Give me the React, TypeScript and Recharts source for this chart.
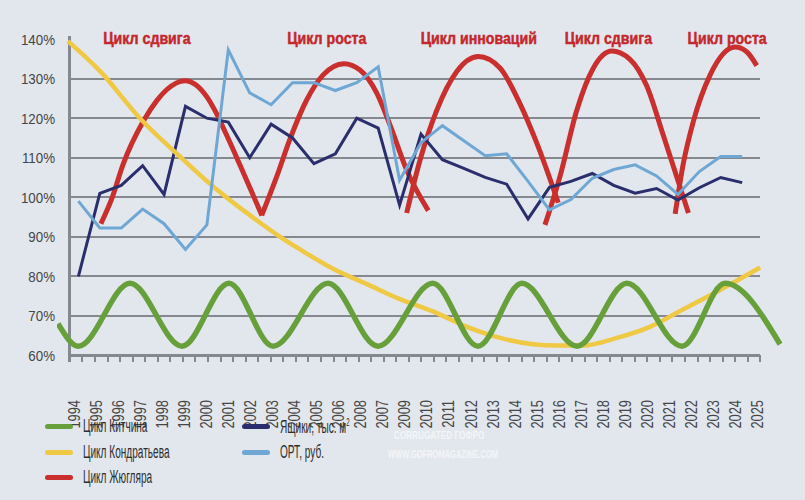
import { LineChart, Line, XAxis, YAxis, ReferenceDot } from 'recharts';

// Years on the horizontal axis (the source swaps 2007 and 2008 in the labels)
const years = [
  1994, 1995, 1996, 1997, 1998, 1999, 2000, 2001, 2002, 2003, 2004, 2005, 2006, 2007, 2008, 2009,
  2010, 2011, 2012, 2013, 2014, 2015, 2016, 2017, 2018, 2019, 2020, 2021, 2022, 2023, 2024, 2025,
];
const yearLabels = [
  '1994', '1995', '1996', '1997', '1998', '1999', '2000', '2001', '2002', '2003', '2004', '2005', '2006', '2008', '2007', '2009',
  '2010', '2011', '2012', '2013', '2014', '2015', '2016', '2017', '2018', '2019', '2020', '2021', '2022', '2023', '2024', '2025',
];

// Ящики, тыс. м2 (%)
const boxes = [
  80, 101, 103, 108, 100.7, 123, 120, 119, 110, 118.5, 115, 108.5, 111, 120, 117.5, 98,
  116, 109.5, 107.3, 105, 103.3, 94.5, 102.5, 104, 106, 103, 101, 102.2, 99.3, 102.4, 105, 103.7,
];
// ОРТ, руб. (%)
const ort = [
  99, 92.2, 92.2, 97, 93.3, 86.8, 93, 137.3, 126.4, 123.4, 129, 129, 127, 129, 133, 104.3,
  113.8, 118.1, 114.3, 110.5, 111, 104, 96.8, 99.4, 104.8, 107, 108.2, 105.4, 100.7, 106.5, 110.3, 110.3,
];

// Цикл Китчина: turning points of the wave
const kitchinYears = [
  1993.05, 1994.0, 1996.41, 1998.84, 2001.03, 2003.09, 2005.66, 2007.99,
  2010.55, 2012.66, 2014.71, 2017.29, 2019.62, 2022.19, 2024.2, 2026.77,
];
const kitchinValues = [68, 62.3, 78.2, 62.3, 78.2, 62.3, 78.2, 62.3, 78.2, 62.3, 78.2, 62.3, 78.2, 62.3, 78.2, 62.8];

// Цикл Кондратьева
const kondYears = [
  1993.51, 1995.01, 1996.87, 1998.74, 2000.47, 2002.02, 2003.28, 2004.35, 2005.89, 2007.48, 2009.02,
  2010.56, 2012.15, 2013.69, 2015.23, 2016.35, 2017.56, 2019.15, 2020.69, 2022.23, 2023.82, 2025.84,
];
const kondValues = [
  139.5, 131.9, 120, 110.3, 101.9, 95.4, 90.5, 86.8, 81.9, 78.0, 74.2,
  71.1, 67.2, 64.4, 62.8, 62.5, 62.5, 64.4, 67.2, 71.6, 76.1, 82.2,
];

// Цикл Жюгляра: five separate arcs, [year, value]
const juglar1 = [
  [1995.05, 93.3], [1995.55, 99.5], [1996.1, 108.5], [1997.03, 119.2], [1997.67, 124.5], [1998.12, 127.2],
  [1998.98, 129.5], [2000.0, 125.4], [2000.38, 121.9], [2000.93, 115.6], [2001.55, 108.1], [2002.57, 95.4],
];
const juglar2 = [
  [2002.56, 95.4], [2003.26, 105.2], [2003.88, 114.7], [2004.66, 124.6], [2005.42, 130.9], [2006.4, 133.8],
  [2007.15, 132.2], [2007.93, 126.4], [2008.55, 118.3], [2009.33, 106.9], [2010.34, 96.6],
];
const juglar3 = [
  [2009.33, 96], [2009.95, 109.3], [2010.73, 121.9], [2011.67, 131.8], [2012.68, 135.6],
  [2013.69, 132.7], [2014.62, 123.7], [2015.4, 113.8], [2016.41, 98.6],
];
const juglar4 = [
  [2015.79, 93], [2016.49, 105.2], [2017.27, 121.9], [2018.05, 132.7], [2018.91, 137],
  [2019.76, 134.9], [2020.54, 128.2], [2021.32, 115.6], [2022.49, 96],
];
const juglar5 = [
  [2021.87, 95.8], [2022.25, 108.5], [2022.72, 119.2], [2023.5, 130.9], [2024.67, 138], [2025.21, 136.8], [2025.68, 133.3],
];
const juglarArcs = [juglar1, juglar2, juglar3, juglar4, juglar5];

// Phase names over the Juglar arcs
const phaseNames = ['Цикл сдвига', 'Цикл роста', 'Цикл инноваций', 'Цикл сдвига', 'Цикл роста'];
const phaseYears = [1997.2, 2005.6, 2012.7, 2018.75, 2024.3];
const phaseLevel = 140.4;

const yTicks = [60, 70, 80, 90, 100, 110, 120, 130, 140];
const gridLevels = [70, 80, 90, 100, 110, 120, 130];
// value range of the plot: the vertical axis runs a little under 60% and over 140%
const axisTop = 140.8;
const tickBottom = 58.3;
const yearDomain = [1993, 2027];
// the vertical axis stands just before 1994; small ticks are spread evenly from there to just past 2025
const frameStart = 1993.6;
const frameEnd = 2025.85;
const minorTickCount = 56;
const minorTickYears = Array.from(
  { length: minorTickCount },
  (_, i) => frameStart + ((frameEnd - frameStart) * i) / (minorTickCount - 1),
);

const GREEN = '#67a03a';
const YELLOW = '#efc844';
const RED = '#c92f2c';
const NAVY = '#2b2e6c';
const LIGHT_BLUE = '#6fa7d4';
const GRID = '#85888e';
const BG = '#e2e7ee';
const TEXT = '#454545';
const FONT = '"Liberation Sans", Arial, sans-serif';

// chart box and plot area
const WIDTH = 805;
const HEIGHT = 500;
const MARGIN = { top: 36, right: 20, bottom: 88, left: 0 };
const Y_AXIS_W = 57;
const X_AXIS_H = 50;
const PLOT = {
  left: MARGIN.left + Y_AXIS_W,
  top: MARGIN.top,
  width: WIDTH - MARGIN.left - MARGIN.right - Y_AXIS_W,
  height: HEIGHT - MARGIN.top - MARGIN.bottom - X_AXIS_H,
};
// same linear mapping as the chart's axes, for the frame laid under the chart
const xPx = (t: number) => PLOT.left + ((t - yearDomain[0]) / (yearDomain[1] - yearDomain[0])) * PLOT.width;
const yPx = (v: number) => PLOT.top + ((axisTop - v) / (axisTop - tickBottom)) * PLOT.height;

const frameX1 = xPx(frameStart);
const frameX2 = xPx(frameEnd);
const baseY = yPx(yTicks[0]);
const tickY2 = yPx(tickBottom);

const series = (xs: number[], ys: number[]) => xs.map((x, i) => ({ x, v: ys[i] }));
const pairs = (arc: number[][]) => arc.map(([x, v]) => ({ x, v }));

const boxesData = series(years, boxes);
const ortData = series(years, ort);
const kitchinData = series(kitchinYears, kitchinValues);
const kondData = series(kondYears, kondValues);
// placeholder so the label axis gets a scale
const labelAxisData = years.map((x) => ({ x }));

// the source uses a narrow font, so text is squeezed horizontally
function YearTick(props: any) {
  const { x, y, payload } = props;
  const label = yearLabels[years.indexOf(payload.value)];
  return (
    <text
      transform={`translate(${x},${y}) rotate(-90) scale(0.78,1)`}
      textAnchor="end"
      dy="0.36em"
      fontSize={16.5}
      fontFamily={FONT}
      fill={TEXT}
    >
      {label}
    </text>
  );
}

function PctTick(props: any) {
  const { x, y, payload } = props;
  return (
    <text
      transform={`translate(${x},${y}) scale(0.86,1)`}
      textAnchor="end"
      dy="0.36em"
      fontSize={15.5}
      fontFamily={FONT}
      fill={TEXT}
    >
      {`${payload.value}%`}
    </text>
  );
}

function PhaseLabel(props: any) {
  const { viewBox, name } = props;
  const cx = viewBox.x + viewBox.width / 2;
  const cy = viewBox.y + viewBox.height / 2;
  return (
    <text
      transform={`translate(${cx},${cy}) scale(0.86,1)`}
      textAnchor="middle"
      dy="0.36em"
      fontSize={16.5}
      fontWeight={700}
      fontFamily={FONT}
      fill="#c4272c"
      stroke="#c4272c"
      strokeWidth={0.5}
    >
      {name}
    </text>
  );
}

// one straight frame stroke as a plain box
function Rule({ x1, y1, x2, y2, w }: { x1: number; y1: number; x2: number; y2: number; w: number }) {
  const vertical = x1 === x2;
  return (
    <div
      style={{
        position: 'absolute',
        left: vertical ? x1 - w / 2 : x1,
        top: vertical ? y1 : y1 - w / 2,
        width: vertical ? w : x2 - x1,
        height: vertical ? y2 - y1 : w,
        background: GRID,
      }}
    />
  );
}

// grid rows, base line, vertical axis and the small ticks
function Frame() {
  return (
    <div style={{ position: 'absolute', left: 0, top: 0, width: WIDTH, height: HEIGHT }}>
      {gridLevels.map((v) => (
        <Rule key={`r${v}`} x1={frameX1} x2={frameX2} y1={yPx(v)} y2={yPx(v)} w={2} />
      ))}
      {minorTickYears.map((t) => (
        <Rule key={`t${t}`} x1={xPx(t)} x2={xPx(t)} y1={baseY} y2={tickY2} w={2} />
      ))}
      <Rule x1={frameX1} x2={frameX2} y1={baseY} y2={baseY} w={3} />
      <Rule x1={frameX1} x2={frameX1} y1={yPx(axisTop)} y2={tickY2} w={3} />
    </div>
  );
}

const legendLeft = [
  { name: 'Цикл Китчина', color: GREEN },
  { name: 'Цикл Кондратьева', color: YELLOW },
  { name: 'Цикл Жюгляра', color: RED },
];
const legendRight = [
  { name: 'Ящики, тыс. м', sup: '2', color: NAVY },
  { name: 'ОРТ, руб.', color: LIGHT_BLUE },
];

function LegendRow({ item }: { item: { name: string; sup?: string; color: string } }) {
  return (
    <div style={{ display: 'flex', alignItems: 'center', height: 25.5, whiteSpace: 'nowrap' }}>
      <div style={{ width: 28, height: 5, borderRadius: 3, background: item.color, marginRight: 10, flexShrink: 0 }} />
      <span
        style={{
          display: 'inline-block',
          fontSize: 18,
          color: '#2d2d2d',
          fontFamily: FONT,
          transform: 'scaleX(0.56)',
          transformOrigin: 'left center',
        }}
      >
        {item.name}
        {item.sup && <sup style={{ fontSize: 11 }}>{item.sup}</sup>}
      </span>
    </div>
  );
}

const markStyle = {
  position: 'absolute' as const,
  left: 388,
  width: 136,
  textAlign: 'center' as const,
  color: '#ffffff',
  opacity: 0.6,
  fontFamily: FONT,
  fontWeight: 700,
  whiteSpace: 'nowrap' as const,
  transform: 'scaleX(0.75)',
  transformOrigin: 'left center',
};

const flat = { dot: false, isAnimationActive: false, type: 'linear' as const, dataKey: 'v' };

export default function App() {
  return (
    <div style={{ position: 'absolute', left: 0, top: 0, width: WIDTH, height: HEIGHT, background: BG, overflow: 'hidden' }}>
      <Frame />
      <div style={{ position: 'absolute', left: 0, top: 0 }}>
        <LineChart width={WIDTH} height={HEIGHT} margin={MARGIN}>
          <XAxis xAxisId="data" type="number" dataKey="x" domain={yearDomain} allowDataOverflow hide />
          <XAxis
            xAxisId="lab"
            type="number"
            dataKey="x"
            domain={[1994, 2025]}
            padding={{ left: 17, right: 28 }}
            ticks={years}
            interval={0}
            height={X_AXIS_H}
            axisLine={false}
            tickLine={false}
            tickSize={0}
            tickMargin={8}
            tick={<YearTick />}
          />
          <YAxis
            type="number"
            domain={[tickBottom, axisTop]}
            ticks={yTicks}
            width={Y_AXIS_W}
            axisLine={false}
            tickLine={false}
            tickSize={0}
            tickMargin={2}
            tick={<PctTick />}
          />

          {/* empty series that only anchors the label axis */}
          <Line xAxisId="lab" data={labelAxisData} {...flat} stroke="none" />

          {juglarArcs.map((arc, i) => (
            <Line
              key={`j${i}`}
              xAxisId="data"
              data={pairs(arc)}
              dataKey="v"
              type="monotone"
              stroke={RED}
              strokeWidth={5}
              dot={false}
              isAnimationActive={false}
            />
          ))}
          <Line xAxisId="data" data={boxesData} {...flat} stroke={NAVY} strokeWidth={3} />
          <Line xAxisId="data" data={kondData} dataKey="v" type="monotone" stroke={YELLOW} strokeWidth={4.5} dot={false} isAnimationActive={false} />
          <Line xAxisId="data" data={ortData} {...flat} stroke={LIGHT_BLUE} strokeWidth={3} />
          <Line xAxisId="data" data={kitchinData} dataKey="v" type="monotone" stroke={GREEN} strokeWidth={5.5} dot={false} isAnimationActive={false} />

          {phaseNames.map((name, i) => (
            <ReferenceDot
              key={`p${i}`}
              xAxisId="data"
              x={phaseYears[i]}
              y={phaseLevel}
              r={0}
              ifOverflow="visible"
              stroke="none"
              fill="none"
              label={<PhaseLabel name={name} />}
            />
          ))}
        </LineChart>
      </div>

      <div style={{ position: 'absolute', left: 45, top: 414 }}>
        {legendLeft.map((item) => (
          <LegendRow key={item.name} item={item} />
        ))}
      </div>
      <div style={{ position: 'absolute', left: 242, top: 414 }}>
        {legendRight.map((item) => (
          <LegendRow key={item.name} item={item} />
        ))}
      </div>

      <div style={{ ...markStyle, top: 429, fontSize: 11, lineHeight: '12px' }}>CORRUGATED  ГОФРО</div>
      <div style={{ ...markStyle, top: 449, fontSize: 10, lineHeight: '11px' }}>WWW.GOFROMAGAZINE.COM</div>
    </div>
  );
}
